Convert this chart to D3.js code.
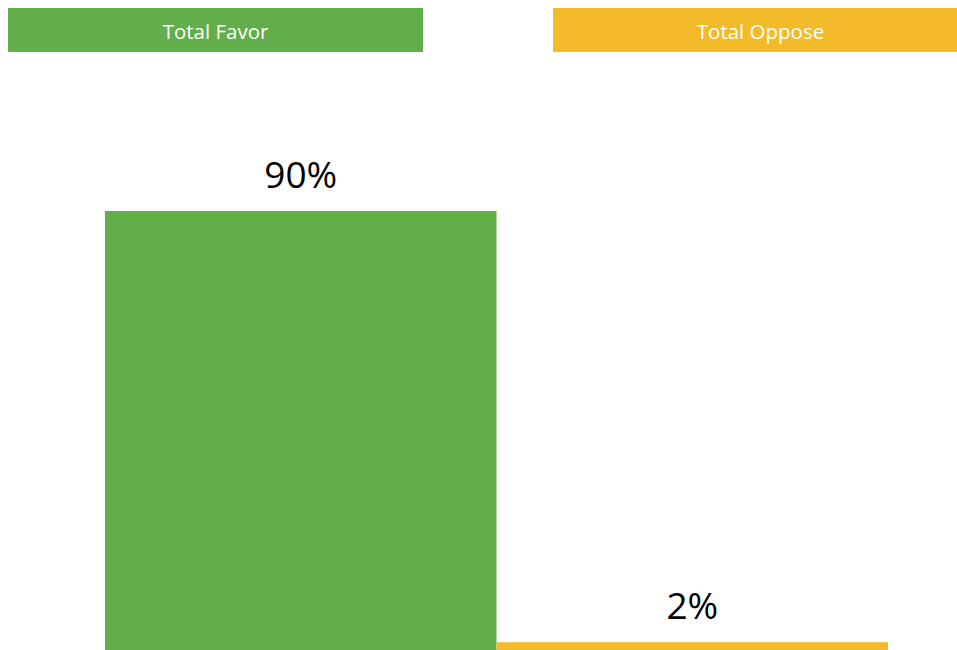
<!DOCTYPE html>
<html>
<head>
<meta charset="utf-8">
<script src="https://cdn.jsdelivr.net/npm/d3@7"></script>
<style>
  html, body { margin: 0; padding: 0; background: #fff; }
  svg { display: block; font-family: "Open Sans", "Noto Sans", sans-serif; }
</style>
</head>
<body>
<svg id="chart" width="957" height="650"></svg>
<script>
const categories = ['Total Favor', 'Total Oppose'];
const values = [90, 2];
const colors = ['#62ae4b', '#f3bb29'];

const svg = d3.select('#chart');
const width = 957;
const height = 650;

// header boxes (the right one runs past the edge)
const head = d3.scaleBand()
  .domain(categories)
  .range([8, 968])
  .paddingInner(130 / 545);

const headers = svg.append('g');

headers.selectAll('rect')
  .data(categories)
  .enter()
  .append('rect')
  .attr('x', d => head(d))
  .attr('y', 8)
  .attr('width', head.bandwidth())
  .attr('height', 44)
  .attr('fill', (d, i) => colors[i]);

headers.selectAll('text')
  .data(categories)
  .enter()
  .append('text')
  .attr('x', d => head(d) + head.bandwidth() / 2)
  .attr('y', 39)
  .attr('text-anchor', 'middle')
  .attr('fill', '#fff')
  .style('font-size', '20.5px')
  .text(d => d);

// bars
let x = d3.scaleBand()
  .domain(categories)
  .range([105, 888])
  .padding(0);

let y = d3.scaleLinear()
  .domain([0, 100])
  .range([652, 162]);

const data = categories.map((c, i) => ({ name: c, value: values[i], color: colors[i] }));

let g = svg.append('g');

g.selectAll('rect')
  .data(data)
  .enter()
  .append('rect')
  .attr('x', d => x(d.name))
  .attr('y', d => y(d.value))
  .attr('width', x.bandwidth())
  .attr('height', d => y(0) - y(d.value))
  .attr('fill', d => d.color);

g.selectAll('text')
  .data(data)
  .enter()
  .append('text')
  .attr('x', d => x(d.name) + x.bandwidth() / 2)
  .attr('y', d => y(d.value) - 23)
  .attr('text-anchor', 'middle')
  .attr('fill', '#000')
  .style('font-size', '37px')
  .text(d => d.value + '%');
</script>
</body>
</html>
